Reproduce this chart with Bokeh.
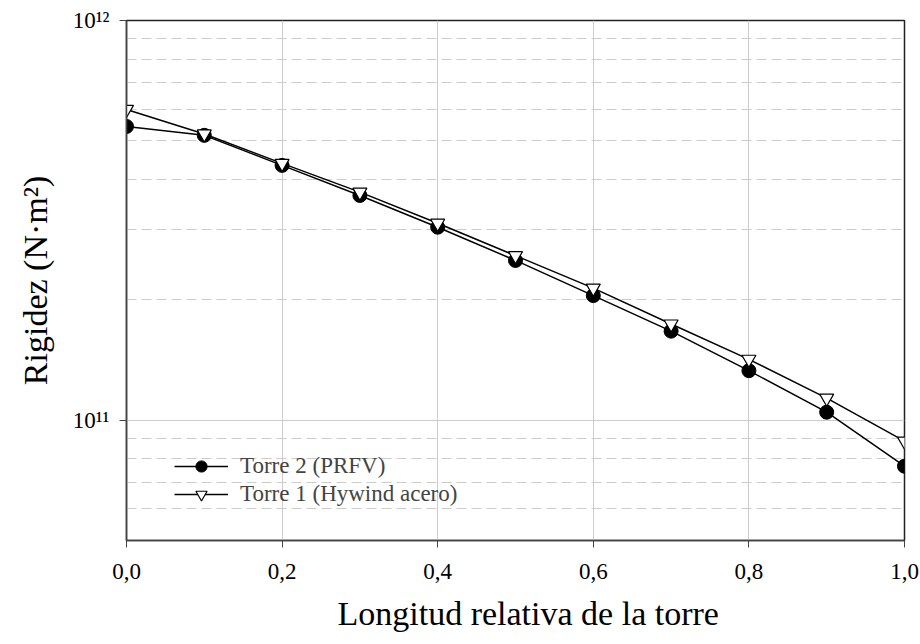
from bokeh.plotting import figure
from bokeh.models import FixedTicker, CustomJSTickFormatter, Range1d, Legend, LegendItem, Title
from bokeh.embed import file_html
from bokeh.resources import INLINE

x = [0.0, 0.1, 0.2, 0.3, 0.4, 0.5, 0.6, 0.7, 0.8, 0.9, 1.0]
torre2_prfv = [5.43e11, 5.16e11, 4.34e11, 3.65e11, 3.04e11, 2.51e11, 2.05e11, 1.67e11, 1.33e11, 1.047e11, 7.67e10]
torre1_hywind = [5.99e11, 5.20e11, 4.39e11, 3.72e11, 3.11e11, 2.58e11, 2.14e11, 1.74e11, 1.42e11, 1.135e11, 8.86e10]
x_ticks = [0.0, 0.2, 0.4, 0.6, 0.8, 1.0]
y_major = [1e11, 1e12]
y_minor = [6e10, 7e10, 8e10, 9e10, 2e11, 3e11, 4e11, 5e11, 6e11, 7e11, 8e11, 9e11]
labels = ["Torre 2 (PRFV)", "Torre 1 (Hywind acero)"]
x_title = "Longitud relativa de la torre"
y_title = "Rigidez (N\u00b7m\u00b2)"

FONT = "Liberation Serif"

p = figure(width=920, height=644, y_axis_type="log", output_backend="svg",
           toolbar_location=None, x_range=Range1d(0, 1.0), y_range=Range1d(5e10, 1e12),
           min_border_left=126, min_border_right=16, min_border_top=20, min_border_bottom=104)
p.background_fill_color = "white"
p.border_fill_color = "white"
p.outline_line_color = "#222222"
p.outline_line_width = 1.5

p.xaxis.ticker = FixedTicker(ticks=x_ticks)
p.xaxis.formatter = CustomJSTickFormatter(code="return tick.toFixed(1).replace('.', ',');")
p.yaxis.ticker = FixedTicker(ticks=y_major, minor_ticks=y_minor)
p.yaxis.formatter = CustomJSTickFormatter(code="""
const e = Math.round(Math.log10(tick));
const sup = {'0':'\u2070','1':'\u00b9','2':'\u00b2','3':'\u00b3','4':'\u2074','5':'\u2075','6':'\u2076','7':'\u2077','8':'\u2078','9':'\u2079'};
return '10' + String(e).split('').map(c => sup[c]).join('');
""")

for ax in (p.xaxis, p.yaxis):
    ax.axis_line_color = "#444444"
    ax.axis_line_width = 1.5
    ax.major_tick_line_color = "#444444"
    ax.major_tick_in = 0
    ax.major_tick_out = 7
    ax.minor_tick_line_color = None
    ax.major_label_text_font = FONT
    ax.major_label_text_font_size = "23px"
    ax.major_label_text_color = "black"
    ax.axis_label_text_font = FONT
    ax.axis_label_text_font_style = "normal"
    ax.axis_label_text_font_size = "34px"
    ax.axis_label_text_color = "black"

p.xaxis.major_label_standoff = 16
p.yaxis.axis_label = y_title
p.yaxis.major_label_standoff = 10
p.yaxis.axis_label_standoff = 16

xt = Title(text=x_title, align="left", offset=211, standoff=22,
           text_font=FONT, text_font_size="34px", text_font_style="normal",
           text_color="black")
p.add_layout(xt, "below")

p.xgrid.ticker = FixedTicker(ticks=[0.2, 0.4, 0.6, 0.8])
p.xgrid.grid_line_color = "#cccccc"
p.xgrid.grid_line_width = 1
p.ygrid.grid_line_color = "#cccccc"
p.ygrid.minor_grid_line_color = "#cccccc"
p.ygrid.minor_grid_line_dash = "10 5"
p.ygrid.minor_grid_line_width = 1

l2 = p.line(x, torre2_prfv, line_color="black", line_width=1.5)
s2 = p.scatter(x, torre2_prfv, marker="circle", size=14, fill_color="black", line_color="black")
l1 = p.line(x, torre1_hywind, line_color="black", line_width=1.5)
s1 = p.scatter(x, torre1_hywind, marker="inverted_triangle", size=14, fill_color="white", line_color="black", line_width=1.2)

legend = Legend(items=[LegendItem(label=labels[0], renderers=[l2, s2]),
                       LegendItem(label=labels[1], renderers=[l1, s1])],
                location=(48, 32))
legend.border_line_color = None
legend.background_fill_alpha = 0
legend.glyph_width = 54
legend.glyph_height = 28
legend.label_height = 28
legend.label_text_font = FONT
legend.label_text_font_size = "23px"
legend.label_standoff = 12
legend.spacing = 0
legend.padding = 4
p.add_layout(legend, "center")

open("out.html", "w").write(file_html(p, INLINE))
